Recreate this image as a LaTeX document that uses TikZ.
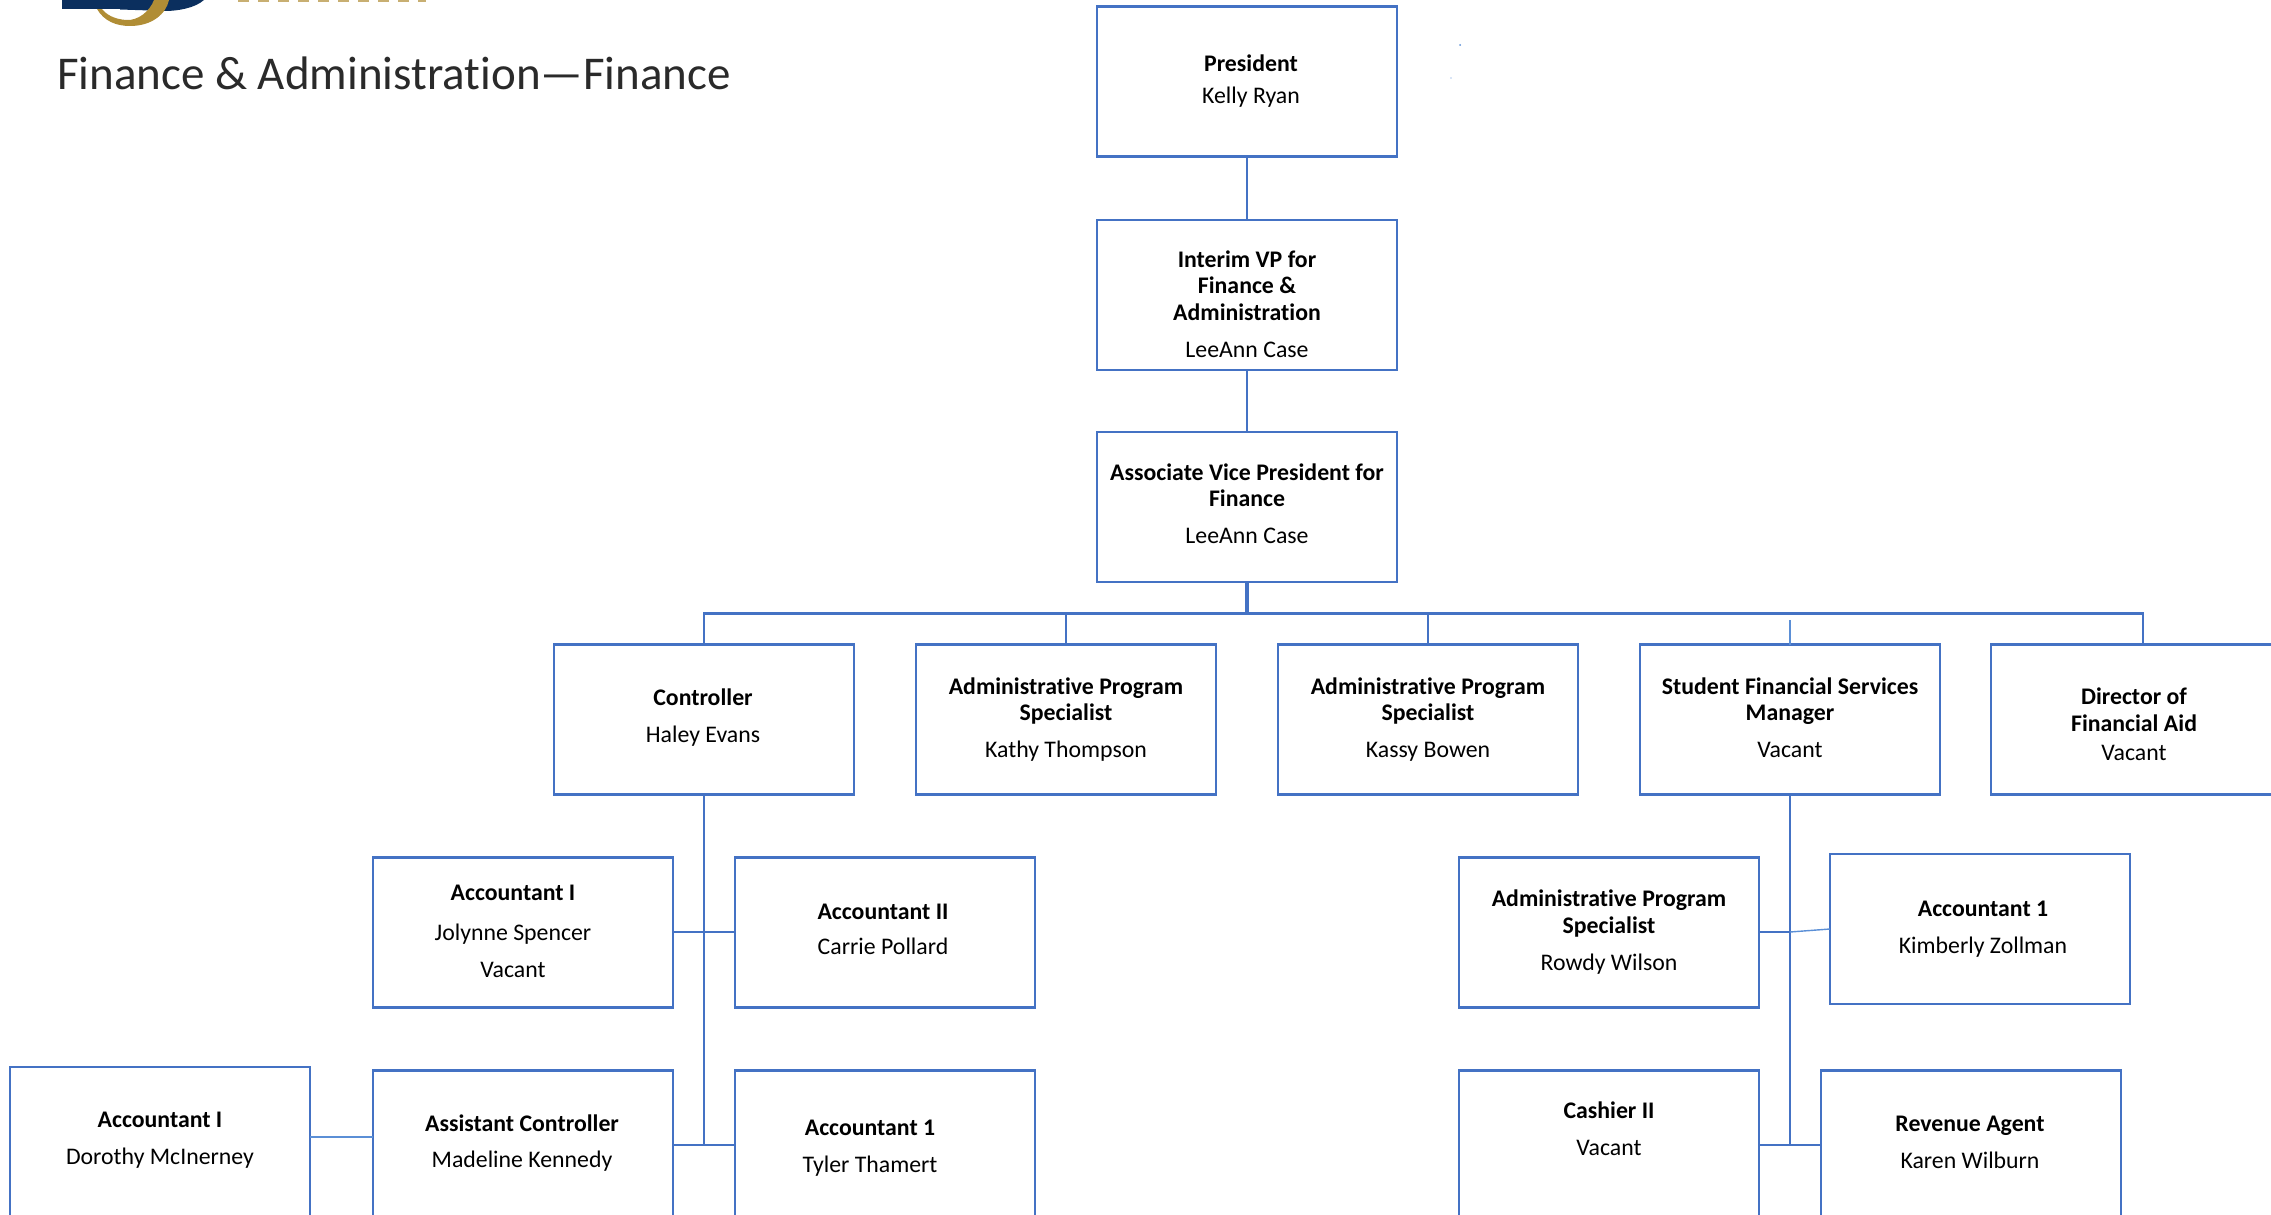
\documentclass[tikz,border=0pt]{standalone}
\usepackage{fontspec}
\setmainfont{Carlito}[Ligatures=NoCommon]
\definecolor{boxblue}{HTML}{4472C4}
\definecolor{thinblue}{HTML}{5B8FD6}
\definecolor{navy}{HTML}{0B2F5E}
\definecolor{gold}{HTML}{B08D35}
\definecolor{titlegray}{HTML}{2A2A2A}
\tikzset{
  x=1pt,y=-1pt,
  orgbox/.style={draw=boxblue,line width=2.7pt,fill=white,minimum width=300pt,minimum height=150pt,anchor=north west,inner sep=0pt,outer sep=0pt},
  lbl/.style={align=center,font=\fontsize{23.8}{26.5}\selectfont,anchor=center,inner sep=0pt},
  conn/.style={draw=boxblue,line width=2.9pt},
  thinconn/.style={draw=thinblue,line width=1.4pt},
}
\newcommand{\bt}[1]{{\bfseries #1}}
\begin{document}
\begin{tikzpicture}
\useasboundingbox (0,0) rectangle (2271,1215);
\begin{scope}
\clip (0,0) rectangle (2271,1215);
% logo remnant
\fill[navy] (120,0) -- (204,0) .. controls (195,8) and (178,11) .. (165,11) -- (120,9.5) -- cycle;
\fill[gold] (97,9) .. controls (104,21) and (116,26) .. (130,26) .. controls (152,26) and (166,14) .. (169,0) -- (154,0) .. controls (150,11) and (138,21) .. (126,20) .. controls (113,19) and (106,14) .. (102,9) -- cycle;
\fill[navy] (62,0) rectangle (127,9.5);
\draw[gold!70!white,line width=2.6pt,dash pattern=on 11pt off 9pt] (238,1) -- (426,1);
% specks
\fill[thinblue] (1460,45) circle (1pt);
\fill[thinblue] (1451,78) circle (0.7pt);
% boxes
\node[orgbox] (pres) at (1097,6.5) {};
\node[orgbox] (vp) at (1097,220) {};
\node[orgbox] (avp) at (1097,432) {};
\node[orgbox] (ctrl) at (554,644.5) {};
\node[orgbox] (aps1) at (916,644.5) {};
\node[orgbox] (aps2) at (1278,644.5) {};
\node[orgbox] (sfs) at (1640,644.5) {};
\node[orgbox] (dir) at (1991,644.5) {};
\node[orgbox] (ac1) at (373,857.5) {};
\node[orgbox] (ac2) at (735,857.5) {};
\node[orgbox] (dor) at (10,1067) {};
\node[orgbox] (asst) at (373,1070.5) {};
\node[orgbox] (tyl) at (735,1070.5) {};
\node[orgbox] (row) at (1459,857.5) {};
\node[orgbox] (kim) at (1830,854) {};
\node[orgbox] (cash) at (1459,1070.5) {};
\node[orgbox] (rev) at (1821,1070.5) {};
% coordinates
\coordinate (bus) at (1247,613.5);
\coordinate (busL) at (704,613.5);
\coordinate (busR) at (2143,613.5);
\coordinate (j1) at (704,932);
\coordinate (j2) at (704,1145);
\coordinate (j3) at (1790,932);
\coordinate (j4) at (1790,1145);
\coordinate (sfsTop) at (1790,620);
% connectors
\draw[conn] (pres.south -| 1247,0) -- (vp.north -| 1247,0);
\draw[conn] (vp.south -| 1247,0) -- (avp.north -| 1247,0);
\draw[conn,line width=4pt] (avp.south -| 1247,0) -- (bus);
\draw[conn] (busL |- ctrl.north) -- (busL) -- (busR) -- (busR |- dir.north);
\draw[conn,line width=2.6pt] (aps1.north) -- (aps1.north |- bus);
\draw[conn,line width=2.6pt] (aps2.north) -- (aps2.north |- bus);
\draw[thinconn] (sfs.north) -- (sfsTop);
\draw[conn] (ctrl.south) -- (j2);
\draw[conn] (ac1.east |- j1) -- (ac2.west |- j1);
\draw[conn] (asst.east |- j2) -- (tyl.west |- j2);
\draw[thinconn,line width=1.8pt] (dor.east |- 0,1137) -- (asst.west |- 0,1137);
\draw[conn] (sfs.south) -- (j4);
\draw[conn] (row.east |- j3) -- (j3);
\draw[thinconn] (j3) -- (kim.west |- 0,929);
\draw[conn] (cash.east |- j4) -- (rev.west |- j4);
\end{scope}
% title
\node[anchor=base west,inner sep=0pt,text=titlegray,font=\fontsize{47}{54}\selectfont] (title) at (57,89) {Finance \& Administration—Finance};
% labels
\node[lbl] (tpres) at (1251,81.5) {\bt{President}\\[5.5pt]Kelly Ryan};
\node[lbl] (tvp) at (1247,304) {\bt{Interim VP for}\\\bt{Finance \&}\\\bt{Administration}\\[10.5pt]LeeAnn Case};
\node[lbl] (tavp) at (1247,503.5) {\bt{Associate Vice President for}\\\bt{Finance}\\[10.5pt]LeeAnn Case};
\node[lbl] (tctrl) at (703,718) {\bt{Controller}\\[10.5pt]Haley Evans};
\node[lbl] (taps1) at (1066,719.5) {\bt{Administrative Program}\\\bt{Specialist}\\[10.5pt]Kathy Thompson};
\node[lbl] (taps2) at (1428,719.5) {\bt{Administrative Program}\\\bt{Specialist}\\[10.5pt]Kassy Bowen};
\node[lbl] (tsfs) at (1790,717.5) {\bt{Student Financial Services}\\\bt{Manager}\\[10.5pt]Vacant};
\node[lbl] (tdir) at (2134,724) {\bt{Director of}\\\bt{Financial Aid}\\[2.5pt]Vacant};
\node[lbl] (tac1) at (513,931.5) {\bt{Accountant I}\\[13pt]Jolynne Spencer\\[10.5pt]Vacant};
\node[lbl] (tac2) at (883,929.5) {\bt{Accountant II}\\[9pt]Carrie Pollard};
\node[lbl] (tdor) at (160,1140) {\bt{Accountant I}\\[10.5pt]Dorothy McInerney};
\node[lbl] (tasst) at (522,1143) {\bt{Assistant Controller}\\[10pt]Madeline Kennedy};
\node[lbl] (ttyl) at (870,1148) {\bt{Accountant 1}\\[10.5pt]Tyler Thamert};
\node[lbl] (trow) at (1609,932) {\bt{Administrative Program}\\\bt{Specialist}\\[10.5pt]Rowdy Wilson};
\node[lbl] (tkim) at (1983,929) {\bt{Accountant 1}\\[10pt]Kimberly Zollman};
\node[lbl] (tcash) at (1609,1129) {\bt{Cashier II}\\[10.5pt]Vacant};
\node[lbl] (trev) at (1970,1142.5) {\bt{Revenue Agent}\\[10pt]Karen Wilburn};
\end{tikzpicture}
\end{document}
